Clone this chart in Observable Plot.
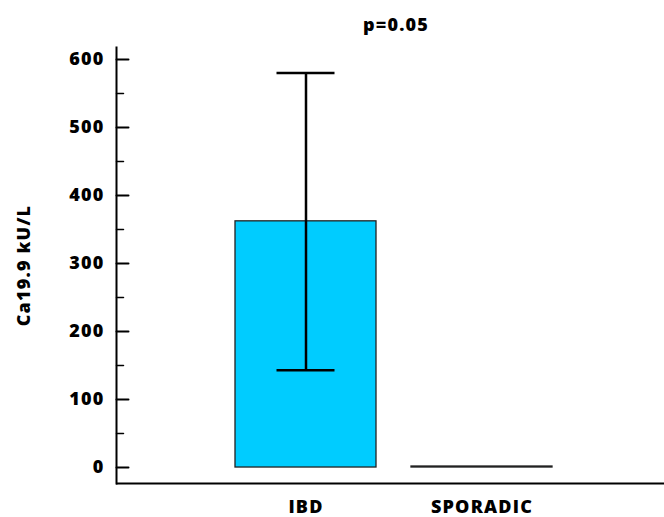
<!DOCTYPE html>
<html>
<head>
<meta charset="utf-8">
<script src="https://cdn.jsdelivr.net/npm/d3@7"></script>
<script src="https://cdn.jsdelivr.net/npm/@observablehq/plot@0.6"></script>
<style>
  html, body { margin: 0; padding: 0; background: #fff; }
  #title { position: relative; width: 664px; height: 40px; font-family: "Open Sans", sans-serif; font-weight: 800; font-size: 18px; line-height: 18px; letter-spacing: 1.2px; color: #000; }
  #title span { position: absolute; left: 396px; top: 15px; transform: translateX(-50%); white-space: nowrap; }
  svg text { letter-spacing: 1.2px; font-weight: 800; }
</style>
</head>
<body>
<div id="title"><span>p=0.05</span></div>
<div id="chart"></div>
<script>
// ---- data ----
const categories = ["IBD", "SPORADIC"];
const means = [362, 1.5];
const errLow = [143, null];
const errHigh = [580, null];
const majorTicks = [0, 100, 200, 300, 400, 500, 600];
const minorTicks = [50, 150, 250, 350, 450, 550];
const yLabel = "Ca19.9 kU/L";
const pLabel = "p=0.05";

document.querySelector("#title span").textContent = pLabel;

const bars = categories.map((c, i) => ({cat: c, value: means[i]}));
const errs = categories.map((c, i) => ({cat: c, lo: errLow[i], hi: errHigh[i]})).filter(d => d.lo != null);

const yMin = -23.5, yMax = 617.6;
const tickShape = { draw(context, l) { context.moveTo(0, 0); context.lineTo(0, -l); } };

const chart = Plot.plot({
  width: 664,
  height: 477,
  marginLeft: 116,
  marginRight: 0,
  marginTop: 7,
  marginBottom: 34,
  style: { fontFamily: "'Open Sans', sans-serif", fontSize: "18px", fontWeight: "800", color: "#000", background: "#fff" },
  x: { domain: categories, range: [235, 552], paddingInner: 0.2, paddingOuter: 0, align: 0.5 },
  y: { domain: [yMin, yMax] },
  marks: [
    Plot.barY(bars, { x: "cat", y: "value", fill: "#00CCFF", stroke: "#222", strokeWidth: 1.3 }),
    Plot.ruleX(errs, { x: "cat", y1: "lo", y2: "hi", stroke: "#000", strokeWidth: 2.5 }),
    Plot.tickY(errs, { x: "cat", y: "lo", insetLeft: 41.5, insetRight: 41.5, stroke: "#000", strokeWidth: 2.5 }),
    Plot.tickY(errs, { x: "cat", y: "hi", insetLeft: 41.5, insetRight: 41.5, stroke: "#000", strokeWidth: 2.5 }),
    Plot.ruleY([yMin], { stroke: "#000", strokeWidth: 2 }),
    Plot.frame({ anchor: "left", stroke: "#000", strokeWidth: 2 }),
    Plot.vector(majorTicks, { y: d => d, frameAnchor: "left", rotate: 90, length: 12, anchor: "start", shape: tickShape, stroke: "#000", strokeWidth: 2 }),
    Plot.vector(minorTicks, { y: d => d, frameAnchor: "left", rotate: 90, length: 7, anchor: "start", shape: tickShape, stroke: "#000", strokeWidth: 1.5 }),
    Plot.axisY({ ticks: majorTicks, tickSize: 0, tickPadding: 12, tickFormat: d => String(d), label: yLabel, labelAnchor: "center", labelOffset: 99, labelArrow: "none" }),
    Plot.axisX({ tickSize: 0, tickPadding: 17, label: null })
  ]
});
document.getElementById("chart").appendChild(chart);
</script>
</body>
</html>
